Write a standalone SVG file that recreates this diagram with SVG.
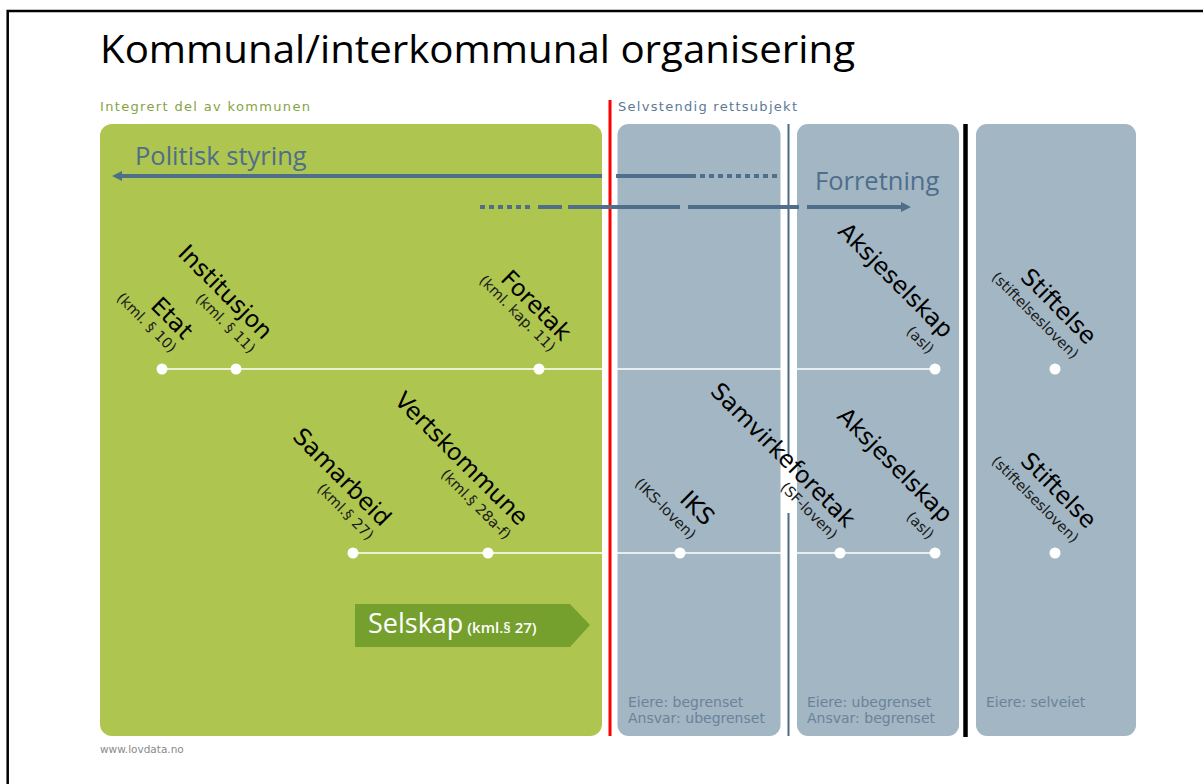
<svg xmlns="http://www.w3.org/2000/svg" width="1203" height="784" viewBox="0 0 1203 784">
<style>
.lbl{font-family:"DejaVu Sans",Verdana,sans-serif;font-size:23.5px;fill:#000;text-anchor:end}
.sub{font-family:"DejaVu Sans",Verdana,sans-serif;font-size:14.5px;fill:#1a1a1a;text-anchor:end}
.dot{fill:#fff}
.panel{fill:#a2b6c4}
.foot{font-family:"DejaVu Sans",Verdana,sans-serif;font-size:14px;fill:#6b8399}
.arr{stroke:#4f6e8a;stroke-width:4;fill:none}
.big{font-family:"Open Sans","Liberation Sans",sans-serif;font-size:25.5px;fill:#4f6e8a}
</style>
<defs>
<marker id="ah" markerWidth="10" markerHeight="10" refX="0" refY="5" orient="auto" markerUnits="userSpaceOnUse">
<path d="M0,0 L10,5 L0,10 Z" fill="#4f6e8a"/>
</marker>
</defs>
<rect width="1203" height="784" fill="#fff"/>
<rect x="7.7" y="11" width="1300" height="900" fill="none" stroke="#000" stroke-width="2.5"/>
<text x="100" y="63" font-family="'Open Sans','Liberation Sans',sans-serif" font-size="39" textLength="755" lengthAdjust="spacingAndGlyphs" fill="#000">Kommunal/interkommunal organisering</text>
<text x="100" y="111" font-family="'DejaVu Sans',Verdana,sans-serif" font-size="13" fill="#86a344" textLength="210" lengthAdjust="spacing">Integrert del av kommunen</text>
<text x="618" y="111" font-family="'DejaVu Sans',Verdana,sans-serif" font-size="13" fill="#5b7a95" textLength="179" lengthAdjust="spacing">Selvstendig rettsubjekt</text>
<g id="panels">
<rect x="100" y="124" width="502" height="612" rx="12" fill="#aec54f"/>
<rect class="panel" x="617.5" y="124" width="163" height="612" rx="11"/>
<rect class="panel" x="797" y="124" width="162" height="612" rx="11"/>
<rect class="panel" x="976" y="124" width="160" height="612" rx="11"/>
</g>
<g id="connectors">
<line x1="162" y1="369" x2="935" y2="369" stroke="#fff" stroke-width="1.5"/>
<line x1="353" y1="553" x2="935" y2="553" stroke="#fff" stroke-width="1.5"/>
<line x1="610" y1="100" x2="610" y2="736" stroke="#ff0000" stroke-width="3"/>
<line x1="788.5" y1="124" x2="788.5" y2="736" stroke="#4a6a85" stroke-width="2"/>
<rect x="784" y="457" width="9" height="56" fill="#fff"/>
<line x1="965.5" y1="124" x2="965.5" y2="737" stroke="#000" stroke-width="4.5"/>
<line class="arr" x1="602" y1="176" x2="122" y2="176" marker-end="url(#ah)"/>
<line class="arr" x1="616" y1="176" x2="696" y2="176"/>
<line class="arr" x1="700" y1="176" x2="778" y2="176" stroke-dasharray="5 4"/>
<line class="arr" x1="480" y1="207" x2="532" y2="207" stroke-dasharray="5 4"/>
<line class="arr" x1="538" y1="207" x2="562" y2="207"/>
<line class="arr" x1="568" y1="207" x2="680" y2="207"/>
<line class="arr" x1="688" y1="207" x2="799" y2="207"/>
<line class="arr" x1="807" y1="207" x2="901" y2="207" marker-end="url(#ah)"/>
</g>
<text class="big" x="135" y="165">Politisk styring</text>
<text class="big" x="815" y="190">Forretning</text>
<g id="selskap">
<path d="M355,604 L570,604 L590,625 L570,647 L355,647 Z" fill="#76a02e"/>
<text x="368" y="633" font-family="'Open Sans','Liberation Sans',sans-serif" font-size="27" fill="#fff">Selskap<tspan font-size="15" font-weight="600" dx="4">(kml.§ 27)</tspan></text>
</g>
<g id="etat"><circle class="dot" cx="162" cy="369" r="5.5"/><g transform="translate(162,369) rotate(45)"><text class="lbl" x="-5" y="-35">Etat</text><text class="sub" x="-5" y="-17">(kml. § 10)</text></g></g>
<g id="institusjon"><circle class="dot" cx="236" cy="369" r="5.5"/><g transform="translate(236,369) rotate(45)"><text class="lbl" x="-1" y="-39">Institusjon</text><text class="sub" x="-1" y="-20">(kml. § 11)</text></g></g>
<g id="foretak"><circle class="dot" cx="539" cy="369" r="5.5"/><g transform="translate(539,369) rotate(45)"><text class="lbl" x="-3" y="-35">Foretak</text><text class="sub" x="-4" y="-19">(kml. kap. 11)</text></g></g>
<g id="aksjeselskap1"><circle class="dot" cx="935" cy="369" r="5.5"/><g transform="translate(935,369) rotate(45)"><text class="lbl" x="-15" y="-27">Aksjeselskap</text><text class="sub" x="-15" y="-5">(asl)</text></g></g>
<g id="stiftelse1"><circle class="dot" cx="1055" cy="369" r="5.5"/><g transform="translate(1055,369) rotate(45)"><text class="lbl" x="6" y="-39">Stiftelse</text><text class="sub" x="6" y="-19">(stiftelsesloven)</text></g></g>
<g id="samarbeid"><circle class="dot" cx="353" cy="553" r="5.5"/><g transform="translate(353,553) rotate(45)"><text class="lbl" x="2" y="-38">Samarbeid</text><text class="sub" x="2" y="-19">(kml.§ 27)</text></g></g>
<g id="vertskommune"><circle class="dot" cx="488" cy="553" r="5.5"/><g transform="translate(488,553) rotate(45)"><text class="lbl" x="3" y="-40">Vertskommune</text><text class="sub" x="3" y="-21">(kml.§ 28a-f)</text></g></g>
<g id="iks"><circle class="dot" cx="680" cy="553" r="5.5"/><g transform="translate(680,553) rotate(45)"><text class="lbl" x="-1" y="-36">IKS</text><text class="sub" x="-2" y="-16">(IKS-loven)</text></g></g>
<g id="samvirkeforetak"><circle class="dot" cx="840" cy="553" r="5.5"/><g transform="translate(840,553) rotate(45)"><text class="lbl" x="-13" y="-21">Samvirkeforetak</text><text class="sub" x="-15" y="-3">(SF-loven)</text></g></g>
<g id="aksjeselskap2"><circle class="dot" cx="935" cy="553" r="5.5"/><g transform="translate(935,553) rotate(45)"><text class="lbl" x="-15" y="-26">Aksjeselskap</text><text class="sub" x="-14" y="-4">(asl)</text></g></g>
<g id="stiftelse2"><circle class="dot" cx="1055" cy="553" r="5.5"/><g transform="translate(1055,553) rotate(45)"><text class="lbl" x="6" y="-39">Stiftelse</text><text class="sub" x="6" y="-19">(stiftelsesloven)</text></g></g>
<g id="footers">
<text class="foot" x="628" y="707">Eiere: begrenset</text>
<text class="foot" x="628" y="723">Ansvar: ubegrenset</text>
<text class="foot" x="807" y="707">Eiere: ubegrenset</text>
<text class="foot" x="807" y="723">Ansvar: begrenset</text>
<text class="foot" x="986" y="707">Eiere: selveiet</text>
</g>
<text x="100" y="753" font-family="'DejaVu Sans',Verdana,sans-serif" font-size="10.5" fill="#8a8a8a">www.lovdata.no</text>
</svg>
